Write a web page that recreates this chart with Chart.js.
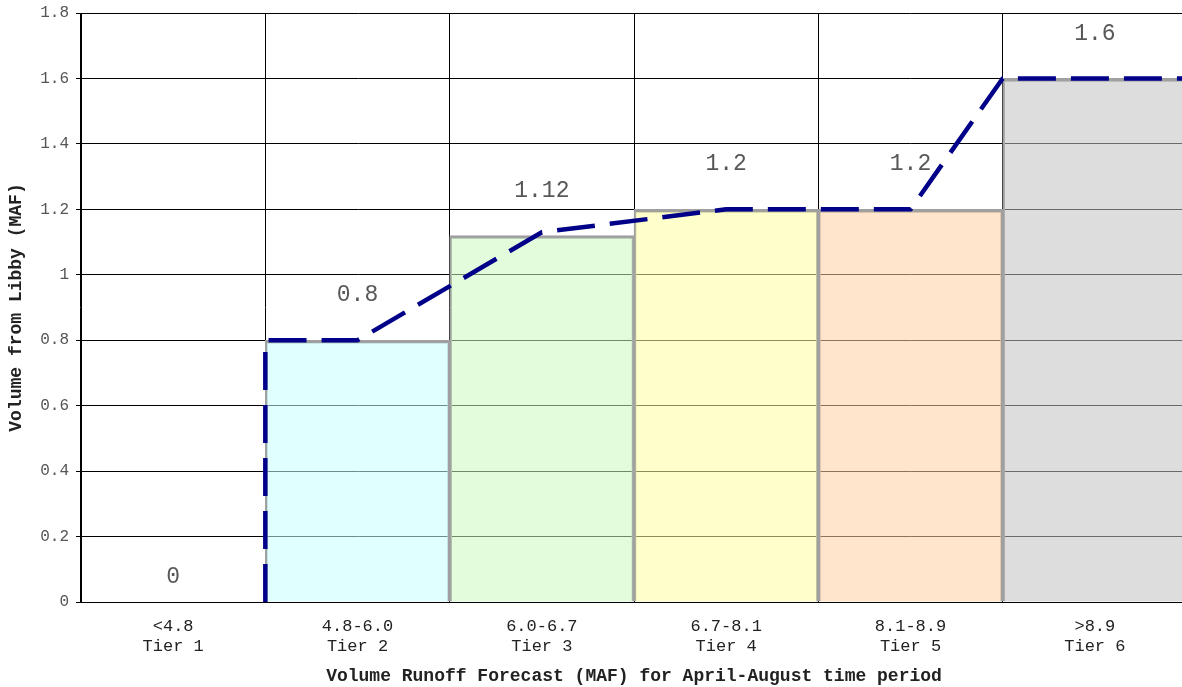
<!DOCTYPE html>
<html><head><meta charset="utf-8">
<script src="https://cdn.jsdelivr.net/npm/chart.js@4/dist/chart.umd.min.js"></script>
<style>
html,body{margin:0;padding:0;background:#fff;overflow:hidden;}
#wrap{position:relative;width:1187px;height:687px;}
</style></head><body>
<div id="wrap"><canvas id="c"></canvas></div>
<script>
// ---- data ----
const rangeLabels = ['<4.8', '4.8-6.0', '6.0-6.7', '6.7-8.1', '8.1-8.9', '>8.9'];
const tierLabels = ['Tier 1', 'Tier 2', 'Tier 3', 'Tier 4', 'Tier 5', 'Tier 6'];
const tierVolumes = [0, 0.8, 1.12, 1.2, 1.2, 1.6];
// dashed step line, x in category-index units
const stepX = [0.5, 0.5, 1, 2, 3, 4, 4.5, 5.5];
const stepY = [0, 0.8, 0.8, 1.13, 1.2, 1.2, 1.6, 1.6];
const yMin = 0, yMax = 1.8, yStep = 0.2;

// ---- styles ----
const tierFills = [
  'rgba(255,255,255,0)',
  'rgba(199,255,255,0.55)',
  'rgba(202,250,191,0.55)',
  'rgba(255,255,162,0.55)',
  'rgba(255,208,162,0.55)',
  'rgba(193,193,193,0.55)'
];
const MONO = '"Liberation Mono", "DejaVu Sans Mono", monospace';

const valueLabels = {
  id: 'valueLabels',
  afterDatasetsDraw(chart) {
    const meta = chart.getDatasetMeta(0);
    const ctx = chart.ctx;
    ctx.save();
    ctx.font = '23px ' + MONO;
    ctx.fillStyle = '#585858';
    ctx.textAlign = 'center';
    ctx.textBaseline = 'middle';
    meta.data.forEach((el, i) => {
      const v = tierVolumes[i];
      const off = v > 0 ? 45 : 25;
      ctx.fillText(String(v), el.x, el.y - off);
    });
    ctx.restore();
  }
};

const categories = rangeLabels.map((r, i) => [r, tierLabels[i]]);

new Chart(document.getElementById('c'), {
  type: 'bar',
  data: {
    labels: categories,
    datasets: [
      {
        type: 'bar',
        order: 1,
        xAxisID: 'x',
        yAxisID: 'y',
        data: tierVolumes,
        backgroundColor: tierFills,
        borderColor: '#a0a0a0',
        borderWidth: ctx => tierVolumes[ctx.dataIndex] > 0 ? { top: 3, bottom: 0, left: 2, right: 2 } : 0,
        borderSkipped: false,
        grouped: false,
        barPercentage: 1,
        categoryPercentage: 1
      },
      {
        type: 'line',
        order: 0,
        xAxisID: 'x2',
        yAxisID: 'y',
        data: stepX.map((x, i) => ({ x: x, y: stepY[i] })),
        borderColor: '#000088',
        borderWidth: 4.5,
        borderDash: [38, 15],
        borderJoinStyle: 'round',
        tension: 0,
        pointRadius: 0,
        fill: false,
        clip: false
      }
    ]
  },
  options: {
    responsive: true,
    maintainAspectRatio: false,
    animation: false,
    devicePixelRatio: 1,
    layout: { padding: { top: 13, right: 0, bottom: 0, left: 0 } },
    plugins: { legend: { display: false }, tooltip: { enabled: false } },
    scales: {
      x: {
        type: 'category',
        offset: true,
        grid: { offset: true, color: '#000', lineWidth: 1, drawTicks: false },
        border: { display: true, color: '#000', width: 1 },
        ticks: {
          padding: 14,
          color: '#222',
          font: { family: MONO, size: 17, lineHeight: 1.2 },
          maxRotation: 0,
          autoSkip: false
        },
        title: {
          display: true,
          text: 'Volume Runoff Forecast (MAF) for April-August time period',
          color: '#222',
          font: { family: MONO, size: 18, weight: 'bold', lineHeight: 1.2 },
          padding: { top: 0, bottom: 0 }
        },
        afterFit: s => { s.height = 85; s.paddingLeft = 0; s.paddingRight = 0; }
      },
      x2: {
        type: 'linear',
        display: false,
        offset: false,
        grid: { offset: false },
        min: -0.5,
        max: 5.5
      },
      y: {
        min: yMin,
        max: yMax,
        grid: { color: '#000', lineWidth: 1, drawTicks: true, tickLength: 5 },
        border: { display: true, color: '#000', width: 1 },
        ticks: {
          stepSize: yStep,
          padding: 7,
          color: '#555',
          font: { family: MONO, size: 16 },
          callback: v => String(Math.round(v * 10) / 10)
        },
        title: {
          display: true,
          text: 'Volume from Libby (MAF)',
          color: '#222',
          font: { family: MONO, size: 18, weight: 'bold', lineHeight: 1.2 },
          padding: { top: 6, bottom: 0 }
        },
        afterFit: s => { s.width = 81; s.paddingTop = 0; s.paddingBottom = 0; }
      }
    }
  },
  plugins: [valueLabels]
});
</script>
</body></html>
